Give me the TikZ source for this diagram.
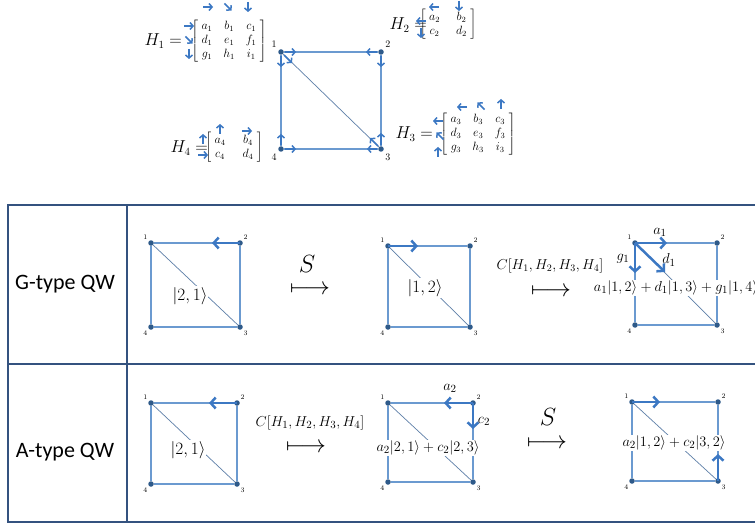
\documentclass[tikz,border=0pt]{standalone}
\usepackage{fontspec}
\newfontfamily\carlito{Carlito}
\usepackage{amsmath}
\usetikzlibrary{arrows.meta,calc,matrix}
\definecolor{edgeblue}{HTML}{6B9AD0}
\definecolor{diagblue}{HTML}{5E7FA8}
\definecolor{dotblue}{HTML}{2E5A8A}
\definecolor{arrblue}{HTML}{3C78C3}
\definecolor{frameblue}{HTML}{34527F}
\tikzset{
  vtx/.style={circle,fill=dotblue,inner sep=0pt,minimum size=5.5pt},
  edge/.style={draw=edgeblue,line width=1.3pt},
  diag/.style={draw=diagblue,line width=0.7pt},
  sarr/.style={draw=arrblue,line width=1.5pt,-{Straight Barb[length=3pt,width=7pt]}},
  barr/.style={draw=arrblue,line width=2.5pt,-{Straight Barb[length=5pt,width=11pt]}},
  vlab/.style={font=\fontsize{7}{8}\selectfont,inner sep=0pt,label distance=2pt},
  tlab/.style={font=\fontsize{10}{12}\selectfont,inner sep=0pt,label distance=3pt},
  hlab/.style={font=\fontsize{16}{18}\selectfont,inner sep=0pt},
  hmat/.style={matrix of math nodes,left delimiter={[},right delimiter={]},
    nodes={font=\fontsize{11.5}{13}\selectfont,text height=7pt,text depth=2pt,inner sep=1pt,minimum width=11pt},
    column sep=9pt,row sep=3pt,inner sep=1pt},
  ket/.style={fill=white,inner sep=1pt,font=\fontsize{18}{20}\selectfont},
  expr/.style={fill=white,inner sep=1pt,font=\fontsize{15}{18}\selectfont},
  coef/.style={inner sep=0pt,font=\fontsize{15}{18}\selectfont},
  mapsto/.style={inner sep=0pt,font=\fontsize{23}{26}\selectfont},
  oplab/.style={inner sep=0pt,font=\fontsize{14}{17}\selectfont},
  rowlab/.style={inner sep=0pt,font=\carlito\fontsize{22}{25}\selectfont},
  frame/.style={draw=frameblue,line width=1.8pt},
}
\newcommand\sqg[6]{%
  \node[vtx,label={[#6]135:1}] (#1-1) at (#2,#3) {};
  \node[vtx,label={[#6]45:2}] (#1-2) at (#4,#3) {};
  \node[vtx,label={[#6]-45:3}] (#1-3) at (#4,#5) {};
  \node[vtx,label={[#6]-135:4}] (#1-4) at (#2,#5) {};
  \draw[edge] (#1-1) -- (#1-2);
  \draw[edge] (#1-2) -- (#1-3);
  \draw[edge] (#1-3) -- (#1-4);
  \draw[edge] (#1-4) -- (#1-1);
  \draw[diag] (#1-1) -- (#1-3);}
\newcommand\sar[2]{\draw[sarr] ($#1+(#2+180:5)$) -- ($#1+(#2:5)$);}
\begin{document}
\begin{tikzpicture}[x=1pt,y=-1pt]
\useasboundingbox (0,0) rectangle (755,524);
\clip (0,0) rectangle (755,524);
\fill[white] (0,0) rectangle (755,524);

% ---------- top graph ----------
\sqg{T}{281}{52}{381}{149}{tlab}
\draw[sarr] ($(T-1)+(4,0)$) -- ++(11,0);
\draw[sarr] ($(T-1)+(0,4)$) -- ++(0,11);
\draw[sarr] ($(T-1)+(3,3)$) -- ++(8,8);
\draw[sarr] ($(T-2)+(-4,0)$) -- ++(-11,0);
\draw[sarr] ($(T-2)+(0,4)$) -- ++(0,11);
\draw[sarr] ($(T-3)+(0,-4)$) -- ++(0,-12);
\draw[sarr] ($(T-3)+(-4,0)$) -- ++(-10,0);
\draw[sarr] ($(T-3)+(-3,-3)$) -- ++(-8,-8);
\draw[sarr] ($(T-4)+(0,-4)$) -- ++(0,-11);
\draw[sarr] ($(T-4)+(4,0)$) -- ++(11,0);

% ---------- coin matrices ----------
\matrix (M1) [hmat] at (229,41) {a_1 & b_1 & c_1\\ d_1 & e_1 & f_1\\ g_1 & h_1 & i_1\\};
\node[hlab,anchor=east] (H1) at (182,41) {$H_1 =$};
\sar{(208,7)}{0} \sar{(228,7)}{45} \sar{(248,7)}{90}
\sar{(189,26)}{0} \sar{(189,40)}{45} \sar{(189,54)}{90}

\matrix (M2) [hmat,column sep=14pt] at (448,25) {a_2 & b_2\\ c_2 & d_2\\};
\node[hlab,anchor=east] (H2) at (427,25) {$H_2 =$};
\sar{(434,7)}{180} \sar{(459,6)}{90}
\sar{(421,21)}{180} \sar{(421,33)}{90}

\matrix (M3) [hmat] at (478,134) {a_3 & b_3 & c_3\\ d_3 & e_3 & f_3\\ g_3 & h_3 & i_3\\};
\node[hlab,anchor=east] (H3) at (433,134) {$H_3 =$};
\sar{(462,107)}{180} \sar{(481,106)}{225} \sar{(501,104)}{270}
\sar{(438,121)}{180} \sar{(440,136)}{225} \sar{(438,152)}{270}

\matrix (M4) [hmat,column sep=15pt] at (234,148) {a_4 & b_4\\ c_4 & d_4\\};
\node[hlab,anchor=east] (H4) at (208,148) {$H_4 =$};
\sar{(220,129)}{270} \sar{(247,131)}{0}
\sar{(203,139)}{270} \sar{(203,155)}{0}

% ---------- table frame ----------
\draw[frame] (760,205) -- (8,205) -- (8,522) -- (760,522);
\draw[frame] (127,205) -- (127,522);
\draw[frame] (8,364) -- (760,364);
\node[rowlab] (GQ) at (65,284) {G-type QW};
\node[rowlab] (AQ) at (65,452) {A-type QW};

% ---------- G-type row ----------
\sqg{G1}{151}{243}{240}{327}{vlab}
\node[ket] (kG1) at (190,296) {$|2,1\rangle$};
\draw[barr] (G1-2.center) -- ++(-28,0);
\node[mapsto] (mG1) at (310,290) {$\longmapsto$};
\node[mapsto] (sG1) at (307,264) {$S$};

\sqg{G2}{388}{246}{470}{327}{vlab}
\node[ket] (kG2) at (425,288) {$|1,2\rangle$};
\draw[barr] (G2-1.center) -- ++(30,0);
\node[mapsto] (mG2) at (551,292) {$\longmapsto$};
\node[oplab] (cG2) at (550,266) {$C[H_1,H_2,H_3,H_4]$};

\sqg{G3}{635}{243}{717}{325}{vlab}
\node[expr] (eG3) at (676,288) {$a_1|1,2\rangle+d_1|1,3\rangle+g_1|1,4\rangle$};
\draw[barr] (G3-1.center) -- ++(32,0);
\draw[barr] (G3-1.center) -- ++(0,30);
\draw[barr] (G3-1.center) -- ++(30,29);
\node[coef] (a1) at (660,232) {$a_1$};
\node[coef] (g1) at (623,259) {$g_1$};
\node[coef] (d1) at (669,260) {$d_1$};

% ---------- A-type row ----------
\sqg{A1}{151}{403}{237}{484}{vlab}
\node[ket] (kA1) at (188,450) {$|2,1\rangle$};
\draw[barr] (A1-2.center) -- ++(-28,0);
\node[mapsto] (mA1) at (306,448) {$\longmapsto$};
\node[oplab,font=\fontsize{15.5}{18}\selectfont] (cA1) at (310,423) {$C[H_1,H_2,H_3,H_4]$};

\sqg{A2}{388}{403}{473}{482}{vlab}
\node[expr,font=\fontsize{15.5}{18}\selectfont] (eA2) at (428,448) {$a_2|2,1\rangle+c_2|2,3\rangle$};
\draw[barr] (A2-2.center) -- ++(-29,0);
\draw[barr] (A2-2.center) -- ++(0,26);
\node[coef] (a2) at (450,388) {$a_2$};
\node[coef] (c2) at (484,421) {$c_2$};
\node[mapsto] (mA2) at (547,444) {$\longmapsto$};
\node[mapsto] (sA2) at (548,417) {$S$};

\sqg{A3}{632}{402}{718}{481}{vlab}
\node[expr,font=\fontsize{15.5}{18}\selectfont] (eA3) at (674,443) {$a_2|1,2\rangle+c_2|3,2\rangle$};
\draw[barr] (A3-1.center) -- ++(28,0);
\draw[barr] (A3-3.center) -- ++(0,-27);
\end{tikzpicture}
\end{document}
